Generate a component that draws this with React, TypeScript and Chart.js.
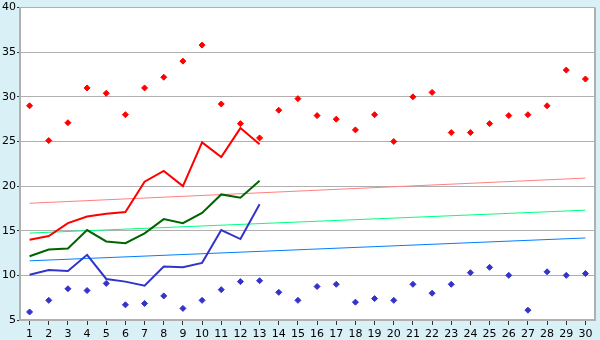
import React, { useEffect, useRef } from "react";
import { Chart, registerables } from "chart.js";

Chart.register(...registerables);

const categories = Array.from({ length: 30 }, (_, i) => String(i + 1));

const maxPoints = [29, 25.1, 27.1, 31, 30.4, 28, 31, 32.2, 34, 35.8, 29.2, 27, 25.4, 28.5, 29.8, 27.9, 27.5, 26.3, 28, 25, 30, 30.5, 26, 26, 27, 27.9, 28, 29, 33, 32];
const minPoints = [5.9, 7.2, 8.5, 8.3, 9.1, 6.7, 6.85, 7.7, 6.3, 7.2, 8.4, 9.3, 9.4, 8.1, 7.2, 8.75, 9, 7, 7.4, 7.2, 9, 8, 9, 10.3, 10.9, 10, 6.1, 10.4, 10, 10.2];
const redLine = [14, 14.4, 15.85, 16.6, 16.9, 17.1, 20.5, 21.7, 20, 24.9, 23.25, 26.5, 24.7];
const greenLine = [12.15, 12.9, 13.0, 15.07, 13.8, 13.6, 14.7, 16.3, 15.85, 17, 19.07, 18.7, 20.6];
const blueLine = [10.07, 10.6, 10.5, 12.3, 9.6, 9.3, 8.85, 11.0, 10.9, 11.4, 15.07, 14.07, 17.97];
const redTrend = [18.08, 20.9];
const greenTrend = [14.74, 17.3];
const blueTrend = [11.63, 14.19];
const yTicks = [5, 10, 15, 20, 25, 30, 35, 40];

const trend = (vals: number[]) => [
  { x: categories[0], y: vals[0] },
  { x: categories[categories.length - 1], y: vals[1] },
];

const bgPlugin = {
  id: "bg",
  beforeDraw(chart: any) {
    const { ctx, chartArea } = chart;
    ctx.save();
    ctx.fillStyle = "#d9f0f7";
    ctx.fillRect(0, 0, chart.width, chart.height);
    ctx.fillStyle = "#ffffff";
    ctx.fillRect(chartArea.left, chartArea.top, chartArea.right - chartArea.left, chartArea.bottom - chartArea.top);
    ctx.restore();
  },
  afterDatasetsDraw(chart: any) {
    const { ctx, chartArea } = chart;
    ctx.save();
    ctx.strokeStyle = "#b0b0b0";
    ctx.lineWidth = 2;
    ctx.beginPath();
    ctx.moveTo(chartArea.right, chartArea.top);
    ctx.lineTo(chartArea.right, chartArea.bottom);
    ctx.stroke();
    ctx.restore();
  },
};

export default function App() {
  const ref = useRef<HTMLCanvasElement>(null);
  useEffect(() => {
    document.body.style.margin = "0";
    const chart = new Chart(ref.current!, {
      type: "line",
      data: {
        labels: categories,
        datasets: [
          { data: redLine, borderColor: "#ff0000", borderWidth: 2, pointRadius: 0, fill: false },
          { data: greenLine, borderColor: "#006400", borderWidth: 2, pointRadius: 0, fill: false },
          { data: blueLine, borderColor: "#3333cc", borderWidth: 2, pointRadius: 0, fill: false },
          { data: trend(redTrend) as any, borderColor: "#ff8080", borderWidth: 1, pointRadius: 0 },
          { data: trend(greenTrend) as any, borderColor: "#00ff80", borderWidth: 1, pointRadius: 0 },
          { data: trend(blueTrend) as any, borderColor: "#0080ff", borderWidth: 1, pointRadius: 0 },
          { data: maxPoints, showLine: false, pointStyle: "rectRot", pointRadius: 3, pointBackgroundColor: "#ff0000", pointBorderColor: "#ff0000", pointBorderWidth: 1 },
          { data: minPoints, showLine: false, pointStyle: "rectRot", pointRadius: 3, pointBackgroundColor: "#3333cc", pointBorderColor: "#3333cc", pointBorderWidth: 1 },
        ],
      },
      options: {
        animation: false,
        responsive: false,
        layout: { padding: { top: 5, right: 5, left: 0, bottom: 0 } },
        plugins: { legend: { display: false }, tooltip: { enabled: false } },
        scales: {
          x: {
            offset: true,
            grid: { display: true, drawOnChartArea: false, tickLength: 5, tickColor: "#333333", color: "#b0b0b0" },
            border: { color: "#b0b0b0", width: 2 },
            ticks: { color: "#000000", font: { family: "DejaVu Sans", size: 11 }, padding: 3, maxRotation: 0, autoSkip: false },
            afterFit(scale: any) { scale.height = 20; },
          },
          y: {
            min: 5,
            max: 40,
            afterBuildTicks(scale: any) { scale.ticks = yTicks.map((v) => ({ value: v })); },
            grid: { color: "#b0b0b0", lineWidth: 1, tickLength: 3, tickColor: "#333333" },
            border: { color: "#b0b0b0", width: 2 },
            ticks: { color: "#000000", font: { family: "DejaVu Sans", size: 11 }, padding: 1 },
            afterFit(scale: any) { scale.width = 20; },
          },
        },
      },
      plugins: [bgPlugin],
    });
    return () => chart.destroy();
  }, []);
  return <canvas ref={ref} width={600} height={340} style={{ display: "block" }} />;
}
